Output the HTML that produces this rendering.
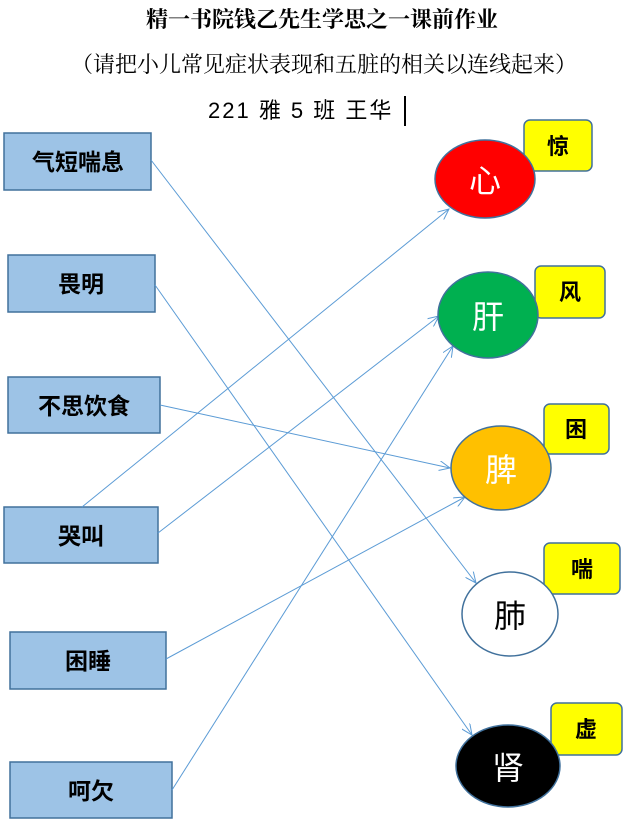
<!DOCTYPE html>
<html><head><meta charset="utf-8"><style>
body{margin:0;width:628px;height:827px;background:#fff;overflow:hidden}
svg{display:block}
text{font-family:"Liberation Sans","Noto Sans CJK SC",sans-serif}
.s{font-family:"Noto Serif CJK SC","Liberation Serif",serif}
</style></head><body>
<svg width="628" height="827" viewBox="0 0 628 827">
<defs><marker id="a" markerWidth="12" markerHeight="10" refX="11" refY="5" orient="auto" markerUnits="userSpaceOnUse"><path d="M0,0 L11,5 L0,10" fill="none" stroke="#5B9BD5" stroke-width="1"/></marker></defs>
<text x="322" y="27" font-size="22" font-weight="bold" text-anchor="middle" class="s">精一书院钱乙先生学思之一课前作业</text>
<text x="324" y="72" font-size="22" text-anchor="middle" class="s">（请把小儿常见症状表现和五脏的相关以连线起来）</text>
<text x="208" y="118" font-size="22" letter-spacing="2">221 雅 5 班  王华</text>
<rect x="404" y="96" width="2" height="30" fill="#000"/>
<g fill="#9DC3E6" stroke="#41719C" stroke-width="1.5">
<rect x="4" y="133" width="147" height="57"/>
<rect x="8" y="255" width="147" height="57"/>
<rect x="8" y="377" width="152" height="56"/>
<rect x="4" y="507" width="154" height="56"/>
<rect x="10" y="632" width="156" height="57"/>
<rect x="10" y="762" width="162" height="56"/>
</g>
<g font-size="23" text-anchor="middle" class="s" font-weight="bold">
<text x="78" y="170">气短喘息</text>
<text x="81" y="292">畏明</text>
<text x="84" y="414">不思饮食</text>
<text x="81" y="544">哭叫</text>
<text x="88" y="669">困睡</text>
<text x="91" y="799">呵欠</text>
</g>
<g stroke="#5B9BD5" stroke-width="1" marker-end="url(#a)" fill="none">
<line x1="151" y1="160" x2="476" y2="583"/>
<line x1="155" y1="285" x2="472" y2="735"/>
<line x1="160" y1="405" x2="450" y2="468"/>
<line x1="82" y1="507" x2="449" y2="209"/>
<line x1="158" y1="533" x2="439" y2="316"/>
<line x1="166" y1="659" x2="465" y2="497"/>
<line x1="172" y1="790" x2="453" y2="346"/>
</g>
<g stroke="#41719C" stroke-width="1.5">
<rect x="524" y="120" width="68" height="51" rx="6" fill="#FFFF00"/>
<rect x="535" y="266" width="70" height="52" rx="6" fill="#FFFF00"/>
<rect x="544" y="404" width="65" height="50" rx="6" fill="#FFFF00"/>
<rect x="544" y="543" width="76" height="51" rx="6" fill="#FFFF00"/>
<rect x="551" y="703" width="71" height="52" rx="6" fill="#FFFF00"/>
<ellipse cx="485" cy="179" rx="50" ry="39" fill="#FF0000"/>
<ellipse cx="488" cy="315" rx="50" ry="43" fill="#00B050"/>
<ellipse cx="501" cy="468" rx="50" ry="42" fill="#FFC000"/>
<ellipse cx="510" cy="614" rx="48" ry="42" fill="#fff"/>
<ellipse cx="508" cy="766" rx="52" ry="41" fill="#000"/>
</g>
<g font-size="22" text-anchor="middle" class="s" font-weight="bold">
<text x="558" y="154">惊</text>
<text x="570" y="300">风</text>
<text x="576" y="437">困</text>
<text x="582" y="577">喘</text>
<text x="586" y="737">虚</text>
</g>
<g font-size="32" text-anchor="middle" class="s">
<text x="485" y="192" fill="#fff">心</text>
<text x="488" y="328" fill="#fff">肝</text>
<text x="501" y="481" fill="#fff">脾</text>
<text x="510" y="627" fill="#000">肺</text>
<text x="508" y="779" fill="#fff">肾</text>
</g>
</svg>
</body></html>
